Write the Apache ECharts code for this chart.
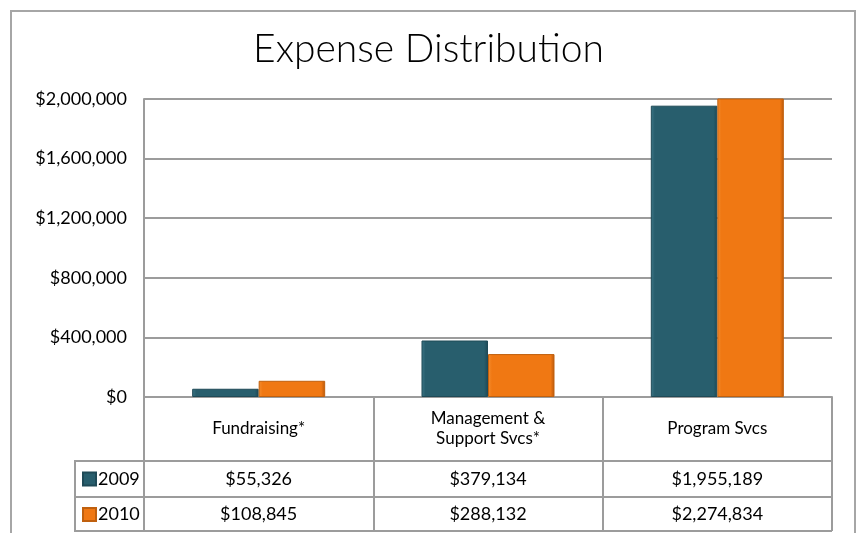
<!DOCTYPE html>
<html>
<head>
<meta charset="utf-8">
<script src="https://cdn.jsdelivr.net/npm/echarts@6/dist/echarts.min.js"></script>
<style>
html,body{margin:0;padding:0;background:#fff;}
#chart{width:857px;height:533px;}
</style>
</head>
<body>
<div id="chart"></div>
<script>
const categories = ['Fundraising*', 'Management &\nSupport Svcs*', 'Program Svcs'];
const seriesNames = ['2009', '2010'];
const values2009 = [55326, 379134, 1955189];
const values2010 = [108845, 288132, 2274834];
const yTicks = [0, 400000, 800000, 1200000, 1600000, 2000000];

const FONT = 'Lato';
const GRAY = '#9c9c9c';
const money = v => '$' + Number(v).toLocaleString('en-US');

const chart = echarts.init(document.getElementById('chart'));

function grad(c0, c1, c2) {
  return new echarts.graphic.LinearGradient(0, 0, 1, 0, [
    {offset: 0, color: c0}, {offset: 0.06, color: c1},
    {offset: 0.94, color: c1}, {offset: 1, color: c2}
  ]);
}
const tealFill = grad('#3c7686', '#285e6d', '#1d4855');
const orangeFill = grad('#f48c2e', '#f07813', '#b9580b');

const labelBase = {color: '#000', fontFamily: FONT, fontSize: 18};

const option = {
  animation: false,
  title: {
    text: 'Expense Distribution',
    left: 'center',
    top: 25,
    padding: [5, 5, 5, 20],
    textStyle: {fontFamily: FONT, fontSize: 39, fontWeight: 300, color: '#000'}
  },
  legend: {
    data: seriesNames,
    orient: 'vertical',
    left: 82,
    top: 470,
    padding: 0,
    itemWidth: 13,
    itemHeight: 13,
    itemGap: 17.5,
    icon: 'rect',
    textStyle: Object.assign({}, labelBase, {lineHeight: 18, padding: [0, 0, 0, -3]})
  },
  grid: {left: 144, right: 25, top: 99, bottom: 136, containLabel: false},
  xAxis: [
    {
      type: 'category', data: categories, position: 'bottom',
      axisLine: {lineStyle: {color: GRAY, width: 2}},
      axisTick: {show: true, interval: 0, length: 134, lineStyle: {color: GRAY, width: 2}},
      axisLabel: Object.assign({}, labelBase, {interval: 0, margin: 32, verticalAlign: 'middle', lineHeight: 20, fontSize: 17})
    },
    {
      type: 'category', data: categories, position: 'bottom',
      axisLine: {show: false}, axisTick: {show: false},
      axisLabel: Object.assign({}, labelBase, {interval: 0, margin: 82, verticalAlign: 'middle',
        formatter: (v, i) => money(values2009[i])})
    },
    {
      type: 'category', data: categories, position: 'bottom',
      axisLine: {show: false}, axisTick: {show: false},
      axisLabel: Object.assign({}, labelBase, {interval: 0, margin: 117, verticalAlign: 'middle',
        formatter: (v, i) => money(values2010[i])})
    }
  ],
  yAxis: {
    type: 'value',
    min: yTicks[0],
    max: yTicks[yTicks.length - 1],
    interval: yTicks[1] - yTicks[0],
    axisLine: {show: true, lineStyle: {color: GRAY, width: 2}},
    axisTick: {show: false},
    splitLine: {lineStyle: {color: GRAY, width: 2}},
    axisLabel: Object.assign({}, labelBase, {margin: 17, formatter: v => money(v)})
  },
  series: [
    {
      name: seriesNames[0], type: 'bar', xAxisIndex: 0, data: values2009,
      barGap: '0%', barCategoryGap: '42%', clip: true,
      itemStyle: {color: tealFill, borderColor: '#1f4a57', borderWidth: 1}
    },
    {
      name: seriesNames[1], type: 'bar', xAxisIndex: 0, data: values2010,
      barGap: '0%', barCategoryGap: '42%', clip: true,
      itemStyle: {color: orangeFill, borderColor: '#c0600e', borderWidth: 1}
    }
  ],
  graphic: [
    {type: 'rect', shape: {x: 11, y: 11, width: 844, height: 600}, style: {fill: null, stroke: '#a6a6a6', lineWidth: 2}, silent: true},
    {type: 'line', shape: {x1: 75, y1: 461, x2: 832, y2: 461}, style: {stroke: GRAY, lineWidth: 2}, silent: true},
    {type: 'line', shape: {x1: 75, y1: 497, x2: 832, y2: 497}, style: {stroke: GRAY, lineWidth: 2}, silent: true},
    {type: 'line', shape: {x1: 75, y1: 531, x2: 832, y2: 531}, style: {stroke: GRAY, lineWidth: 2}, silent: true},
    {type: 'line', shape: {x1: 75, y1: 460, x2: 75, y2: 532}, style: {stroke: GRAY, lineWidth: 2}, silent: true}
  ]
};
chart.setOption(option);
</script>
</body>
</html>
